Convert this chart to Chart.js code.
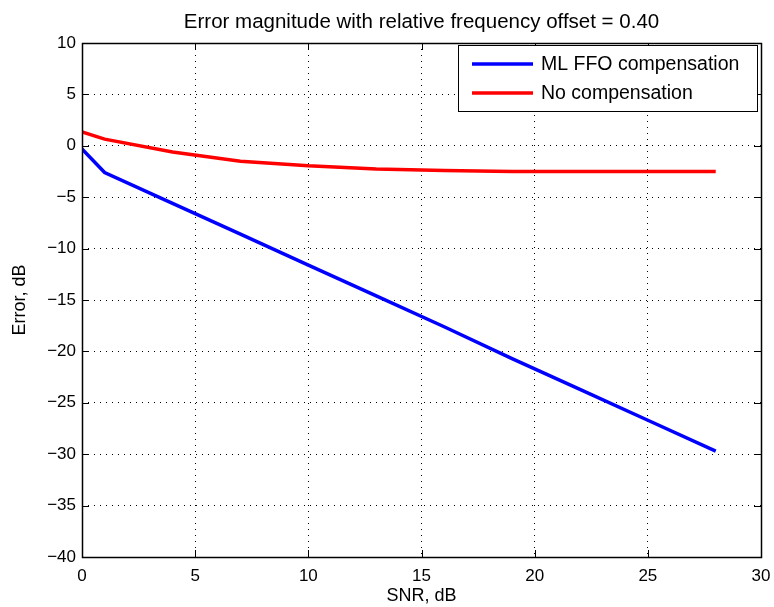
<!DOCTYPE html>
<html><head><meta charset="utf-8">
<script src="https://cdn.jsdelivr.net/npm/chart.js@4"></script>
<style>html,body{margin:0;padding:0;background:#fff}#wrap{width:774px;height:607px}</style>
</head><body><div id="wrap"><canvas id="c" width="774" height="607"></canvas></div>
<script>
const snr = [0, 1, 4, 7, 10, 13, 16, 19, 22, 25, 28];
const mlFfo = [-0.3, -2.6, -5.6, -8.6, -11.6, -14.6, -17.6, -20.7, -23.7, -26.7, -29.7];
const noComp = [1.35, 0.65, -0.6, -1.5, -1.95, -2.25, -2.4, -2.5, -2.5, -2.5, -2.5];
const seriesNames = ['ML FFO compensation', 'No compensation'];
const xTicks = [0, 5, 10, 15, 20, 25, 30];
const yTicks = [10, 5, 0, -5, -10, -15, -20, -25, -30, -35, -40];
const titleText = 'Error magnitude with relative frequency offset = 0.40';
const FONT = '"Liberation Sans", Arial, Helvetica, sans-serif';
const fmt = v => (v < 0 ? '\u2212' + Math.abs(v) : String(v));

const boxPlugin = {
  id: 'box',
  afterDatasetsDraw(chart) {
    const {ctx, chartArea: a, scales: {x, y}} = chart;
    ctx.save();
    ctx.strokeStyle = '#000'; ctx.lineWidth = 1;
    ctx.beginPath();
    xTicks.forEach(v => { const p = Math.round(x.getPixelForValue(v)) + 0.5;
      ctx.moveTo(p, a.bottom); ctx.lineTo(p, a.bottom - 7);
      ctx.moveTo(p, a.top); ctx.lineTo(p, a.top + 7); });
    yTicks.forEach(v => { const p = Math.round(y.getPixelForValue(v)) + 0.5;
      ctx.moveTo(a.left, p); ctx.lineTo(a.left + 7, p);
      ctx.moveTo(a.right, p); ctx.lineTo(a.right - 7, p); });
    ctx.stroke();
    ctx.lineWidth = 1.5;
    ctx.strokeRect(Math.round(a.left) + 0.5, Math.round(a.top) + 0.5, Math.round(a.right - a.left), Math.round(a.bottom - a.top));
    // legend
    const lx = 458, ly = 45, lw = a.right - 4 - 458, lh = 66;
    ctx.fillStyle = '#fff';
    ctx.fillRect(lx, ly, lw, lh);
    ctx.lineWidth = 1;
    ctx.strokeRect(lx + 0.5, ly + 0.5, lw, lh);
    const ds = chart.data.datasets;
    [64, 93].forEach((yy, i) => {
      ctx.strokeStyle = ds[i].borderColor; ctx.lineWidth = 3.5;
      ctx.beginPath(); ctx.moveTo(472, yy); ctx.lineTo(533, yy); ctx.stroke();
      ctx.fillStyle = '#000'; ctx.font = '19.5px ' + FONT; ctx.textBaseline = 'middle';
      ctx.fillText(ds[i].label, 541, yy + 1);
    });
    ctx.restore();
  }
};

new Chart(document.getElementById('c'), {
  type: 'line',
  data: {
    datasets: [
      {label: seriesNames[0], data: snr.map((s, i) => ({x: s, y: mlFfo[i]})), borderColor: '#0000ff', borderWidth: 3.5, pointRadius: 0, tension: 0},
      {label: seriesNames[1], data: snr.map((s, i) => ({x: s, y: noComp[i]})), borderColor: '#ff0000', borderWidth: 3.5, pointRadius: 0, tension: 0}
    ]
  },
  options: {
    responsive: false, animation: false,
    layout: {padding: {left: 0, right: 13, top: 0, bottom: 0}},
    plugins: {
      legend: {display: false}, tooltip: {enabled: false},
      title: {display: true, text: titleText, fullSize: false, color: '#000',
        font: {family: FONT, size: 20.5, weight: 'normal'}, padding: {top: 10, bottom: 8.4}}
    },
    scales: {
      x: {type: 'linear', min: 0, max: 30,
        afterBuildTicks: s => { s.ticks = xTicks.map(v => ({value: v})); },
        afterFit: s => { s.height = 50; s.paddingLeft = 0; s.paddingRight = 0; },
        ticks: {color: '#000', font: {family: FONT, size: 17}, padding: 9, maxRotation: 0, callback: fmt},
        grid: {color: '#000', lineWidth: 1, drawTicks: false, tickLength: 0},
        border: {display: false, dash: [1, 5]},
        title: {display: true, text: 'SNR, dB', color: '#000', font: {family: FONT, size: 18}, padding: {top: 0, bottom: 0}}
      },
      y: {type: 'linear', min: -40, max: 10,
        afterBuildTicks: s => { s.ticks = yTicks.map(v => ({value: v})); },
        afterFit: s => { s.width = 82; },
        ticks: {color: '#000', font: {family: FONT, size: 17}, padding: 6, callback: fmt},
        grid: {color: '#000', lineWidth: 1, drawTicks: false, tickLength: 0},
        border: {display: false, dash: [1, 5]},
        title: {display: true, text: 'Error, dB', color: '#000', font: {family: FONT, size: 18}, padding: {top: 9, bottom: 4}}
      }
    }
  },
  plugins: [boxPlugin]
});
</script></body></html>
